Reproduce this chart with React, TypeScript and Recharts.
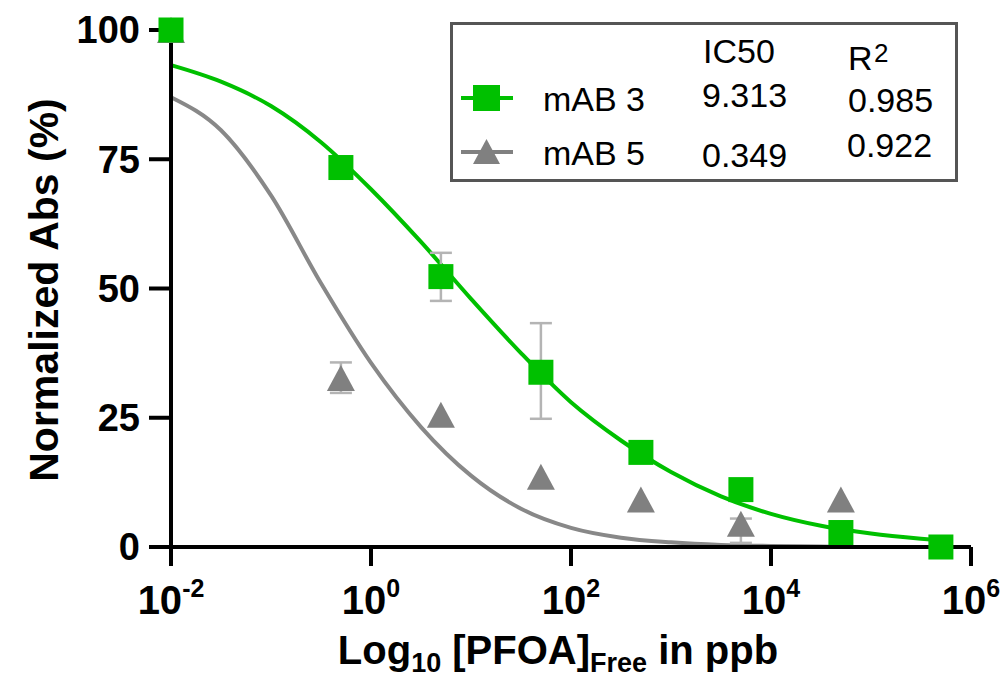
import React from 'react';
import {
  ComposedChart,
  Line,
  Scatter,
  XAxis,
  YAxis,
  ErrorBar,
  Legend,
  Label,
} from 'recharts';

const FONT = '"Liberation Sans", Arial, Helvetica, sans-serif';
const GREEN = '#00c000';
const GREY = '#808080';
const ERR = '#b4b4b4';

// measured points, concentration in ppb (null = no error bar)
const mab3Conc = [0.01, 0.5, 5, 50, 500, 5000, 50000, 500000];
const mab3Values = [100, 73.4, 52.3, 33.8, 18.3, 11.1, 2.8, 0];
const mab3Err = [null, null, [4.7, 4.6], [9, 9.5], null, null, null, null];

const mab5Conc = [0.01, 0.5, 5, 50, 500, 5000, 50000];
const mab5Values = [100, 32.7, 25.6, 13.6, 9.2, 4.5, 9.2];
const mab5Err = [null, [2.9, 3], null, null, null, [3.7, 1], null];

// fitted curves at half-decade steps (log10 ppb)
const fitLogX = [-2, -1.5, -1, -0.5, 0, 0.5, 1, 1.5, 2, 2.5, 3, 3.5, 4, 4.5, 5, 5.5, 5.75];
const mab3Fit = [93.2, 90, 85.3, 78.3, 69.2, 59, 48, 37.5, 28, 20.6, 14.5, 9.8, 6.4, 4.1, 2.6, 1.6, 1.2];
const mab5Fit = [87, 80.6, 68, 51, 35.6, 23.2, 13.8, 7.4, 3.7, 1.8, 0.9, 0.4, 0.2, 0.1, 0, 0, 0];

const xTicks = [-2, 0, 2, 4, 6];
const yTicks = [0, 25, 50, 75, 100];

const mab3Points = mab3Conc.map((c, i) => ({ x: Math.log10(c), y: mab3Values[i], err: mab3Err[i] }));
const mab5Points = mab5Conc.map((c, i) => ({ x: Math.log10(c), y: mab5Values[i], err: mab5Err[i] }));
const mab3Curve = fitLogX.map((x, i) => ({ x, y: mab3Fit[i] }));
const mab5Curve = fitLogX.map((x, i) => ({ x, y: mab5Fit[i] }));

const Square = (props: any) => {
  const { cx, cy } = props;
  return <rect x={cx - 12.5} y={cy - 12.5} width={25} height={25} fill={GREEN} />;
};

const Triangle = (props: any) => {
  const { cx, cy } = props;
  return (
    <polygon
      points={`${cx},${cy - 13} ${cx + 14},${cy + 13} ${cx - 14},${cy + 13}`}
      fill={GREY}
    />
  );
};

const PowerTick = (props: any) => {
  const { x, y, payload } = props;
  return (
    <text
      x={x}
      y={y + 46}
      textAnchor="middle"
      fontFamily={FONT}
      fontWeight="bold"
      fontSize={40}
      fill="#000"
    >
      10
      <tspan fontSize={25} dy={-17}>
        {String(payload.value)}
      </tspan>
    </text>
  );
};

const txt = { fontFamily: FONT, fontSize: 34, fill: '#000' };

const LegendBox = () => (
  <svg width={508} height={160} style={{ display: 'block' }}>
    <rect x={1.5} y={1.5} width={505} height={157} fill="#fff" stroke="#555" strokeWidth={3} />
    <text x={253} y={41} {...txt}>IC50</text>
    <text x={398} y={48} {...txt}>R</text>
    <text x={424} y={40} {...txt} fontSize={26}>2</text>

    <line x1={11} y1={76} x2={63} y2={76} stroke={GREEN} strokeWidth={4} />
    <rect x={23} y={63} width={27} height={26} fill={GREEN} />
    <text x={93} y={89} {...txt}>mAB 3</text>
    <text x={252} y={85} {...txt}>9.313</text>
    <text x={398} y={90} {...txt}>0.985</text>

    <line x1={11} y1={130} x2={63} y2={130} stroke={GREY} strokeWidth={4} />
    <polygon points="36.5,117 50,142 23,142" fill={GREY} />
    <text x={93} y={143} {...txt}>mAB 5</text>
    <text x={252} y={145} {...txt}>0.349</text>
    <text x={397} y={135} {...txt}>0.922</text>
  </svg>
);

export default function App() {
  return (
    <div style={{ position: 'absolute', left: 0, top: 0, background: '#fff' }}>
      <ComposedChart
        width={1005}
        height={681}
        margin={{ top: 30, right: 34, bottom: 54, left: 0 }}
      >
        <XAxis
          type="number"
          dataKey="x"
          domain={[-2, 6]}
          ticks={xTicks}
          interval={0}
          height={80}
          axisLine={{ stroke: '#000', strokeWidth: 4 }}
          tickLine={{ stroke: '#000', strokeWidth: 4 }}
          tickSize={19}
          tick={<PowerTick />}
        >
          <Label
            content={() => (
              <text
                x={558}
                y={664}
                textAnchor="middle"
                fontFamily={FONT}
                fontWeight="bold"
                fontSize={40}
                fill="#000"
              >
                Log
                <tspan fontSize={27} dy={8}>10</tspan>
                <tspan dy={-8}>{' [PFOA]'}</tspan>
                <tspan fontSize={27} dy={8}>Free</tspan>
                <tspan dy={-8}>{' in ppb'}</tspan>
              </text>
            )}
          />
        </XAxis>
        <YAxis
          type="number"
          domain={[0, 100]}
          ticks={yTicks}
          interval={0}
          width={171}
          axisLine={{ stroke: '#000', strokeWidth: 4 }}
          tickLine={{ stroke: '#000', strokeWidth: 4 }}
          tickSize={22}
          tickMargin={9}
          tick={{ fontFamily: FONT, fontSize: 38, fontWeight: 'bold', fill: '#000' }}
        >
          <Label
            content={() => (
              <text
                x={58}
                y={290}
                transform="rotate(-90 58 290)"
                textAnchor="middle"
                fontFamily={FONT}
                fontWeight="bold"
                fontSize={41}
                fill="#000"
              >
                Normalized Abs (%)
              </text>
            )}
          />
        </YAxis>

        <Legend
          layout="horizontal"
          verticalAlign="middle"
          align="center"
          wrapperStyle={{ left: 450, top: 22, width: 508, height: 160 }}
          content={() => <LegendBox />}
        />

        <Line
          data={mab5Curve}
          dataKey="y"
          name="mAB 5 fit"
          type="monotone"
          stroke="#888888"
          strokeWidth={4}
          dot={false}
          activeDot={false}
          isAnimationActive={false}
        />
        <Line
          data={mab3Curve}
          dataKey="y"
          name="mAB 3 fit"
          type="monotone"
          stroke={GREEN}
          strokeWidth={4}
          dot={false}
          activeDot={false}
          isAnimationActive={false}
        />
        <Scatter
          data={mab5Points}
          dataKey="y"
          name="mAB 5"
          shape={<Triangle />}
          isAnimationActive={false}
        >
          <ErrorBar dataKey="err" direction="y" width={11} stroke={ERR} strokeWidth={2.5} />
        </Scatter>
        <Scatter
          data={mab3Points}
          dataKey="y"
          name="mAB 3"
          shape={<Square />}
          isAnimationActive={false}
        >
          <ErrorBar dataKey="err" direction="y" width={11} stroke={ERR} strokeWidth={2.5} />
        </Scatter>
      </ComposedChart>
    </div>
  );
}
